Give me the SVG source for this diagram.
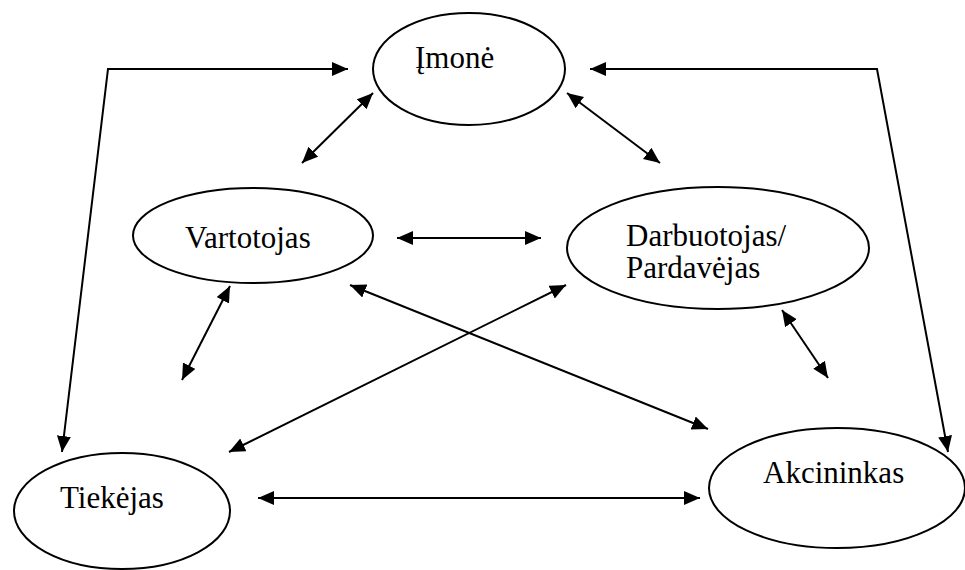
<svg xmlns="http://www.w3.org/2000/svg" width="965" height="570" viewBox="0 0 965 570">
  <style>
    .node ellipse { fill: #ffffff; stroke: #000000; stroke-width: 2; }
    .node text { font-size: 31px; fill: #000000; }
    .edges line, .edges polyline { fill: none; stroke: #000000; stroke-width: 2; marker-start: url(#head); marker-end: url(#head); }
  </style>
  <defs>
    <!-- filled triangular head shared by every two-way connector -->
    <marker id="head" markerUnits="userSpaceOnUse" markerWidth="17" markerHeight="15" refX="16" refY="7" orient="auto-start-reverse">
      <path d="M0,0 L16,7 L0,14 Z" fill="#000000"/>
    </marker>
  </defs>
  <rect width="965" height="570" fill="#ffffff"/>

  <g font-family="'Liberation Serif', 'Times New Roman', serif">
    <g id="imone" class="node">
      <ellipse cx="469" cy="69" rx="96" ry="56"/>
      <text x="415" y="68">Įmonė</text>
    </g>
    <g id="vartotojas" class="node">
      <ellipse cx="253" cy="235.5" rx="120" ry="47.5"/>
      <text x="185" y="248">Vartotojas</text>
    </g>
    <g id="darbuotojas" class="node">
      <ellipse cx="718" cy="248" rx="151" ry="61"/>
      <text x="626" y="246">Darbuotojas/</text>
      <text x="626" y="278">Pardavėjas</text>
    </g>
    <g id="tiekejas" class="node">
      <ellipse cx="122" cy="511" rx="108" ry="58"/>
      <text x="60" y="508">Tiekėjas</text>
    </g>
    <g id="akcininkas" class="node">
      <ellipse cx="837" cy="488" rx="128" ry="60"/>
      <text x="763" y="483">Akcininkas</text>
    </g>
  </g>

  <g id="connectors" class="edges">
    <polyline points="62,452 108,69 348,69"/>
    <polyline points="590,69 877,69 948,452"/>
    <line x1="373" y1="93" x2="302" y2="163"/>
    <line x1="567" y1="93" x2="660" y2="163"/>
    <line x1="397" y1="238" x2="541" y2="238"/>
    <line x1="230" y1="286" x2="182" y2="380"/>
    <line x1="350" y1="285" x2="708" y2="429"/>
    <line x1="566" y1="285" x2="229" y2="452"/>
    <line x1="782" y1="310" x2="828" y2="378"/>
    <line x1="258" y1="498" x2="700" y2="498"/>
  </g>
</svg>
